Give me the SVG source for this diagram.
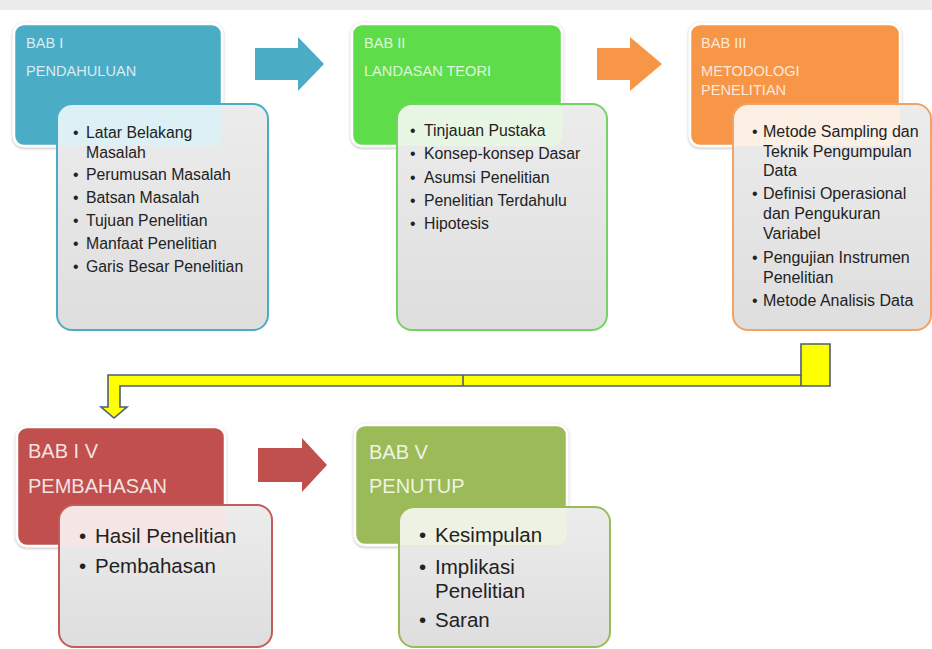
<svg xmlns="http://www.w3.org/2000/svg" width="932" height="649" viewBox="0 0 932 649">
<defs>
  <style>
    .box{stroke:#ffffff;stroke-width:2.5;filter:url(#sh)}
    .inner{fill:url(#gray)}
    .edge{fill:none;stroke-width:2}
    .tt{font-family:"Liberation Sans",Arial,sans-serif;font-size:14.6px;fill:#ffffff;fill-opacity:.8}
    .tb{font-family:"Liberation Sans",Arial,sans-serif;font-size:20px;fill:#ffffff;fill-opacity:.85}
    .b1{font-family:"Liberation Sans",Arial,sans-serif;font-size:15.8px;fill:#222222}
    .b2{font-family:"Liberation Sans",Arial,sans-serif;font-size:20.5px;fill:#222222}
    .conn{fill:#ffff00;stroke:#4a5f78;stroke-width:1.6;stroke-linejoin:miter}
    .seam{stroke:#4a5f78;stroke-width:1.6}
  </style>
  <filter id="sh" x="-10%" y="-10%" width="120%" height="130%">
    <feDropShadow dx="0" dy="1" stdDeviation="1.6" flood-color="#000000" flood-opacity="0.3"/>
  </filter>
  <linearGradient id="gray" x1="0" y1="0" x2="0" y2="1">
    <stop offset="0" stop-color="#ececec"/>
    <stop offset="1" stop-color="#dedede"/>
  </linearGradient>
  <clipPath id="c1"><rect x="57" y="104" width="211" height="226" rx="15"/></clipPath>
  <clipPath id="c2"><rect x="397" y="104" width="210" height="226" rx="15"/></clipPath>
  <clipPath id="c3"><rect x="733" y="104" width="198" height="226" rx="15"/></clipPath>
  <clipPath id="c4"><rect x="59" y="505" width="213" height="142" rx="15"/></clipPath>
  <clipPath id="c5"><rect x="399" y="507" width="211" height="140" rx="15"/></clipPath>
</defs>

<rect x="0" y="0" width="932" height="649" fill="#ffffff"/>
<rect x="0" y="0" width="932" height="10" fill="#ececec"/>

<g id="connectors">
  <path d="M255 48 H298 V37 L324 64 L298 91 V80 H255 Z" fill="#4BACC6"/>
  <path d="M597 48 H630 V37 L662 64 L630 91 V80 H597 Z" fill="#F79646"/>
  <path d="M258 448 H302 V438 L327 465 L302 492 V482 H258 Z" fill="#C0504D"/>
  <path class="conn" d="M801 344 H830 V386 H120 V407 H127 L114 418 L101 407 H108 V375 H801 Z"/>
  <line class="seam" x1="801" y1="375" x2="801" y2="386"/>
  <line class="seam" x1="463" y1="375" x2="463" y2="386"/>
</g>

<g id="bab1">
  <rect class="box" x="14" y="24" width="208" height="122" rx="10" fill="#4BACC6"/>
  <text class="tt" x="26" y="48">BAB I</text>
  <text class="tt" x="26" y="76">PENDAHULUAN</text>
  <rect class="inner" x="57" y="104" width="211" height="226" rx="15"/>
  <rect x="14" y="24" width="208" height="122" rx="10" fill="#dcf0f5" clip-path="url(#c1)"/>
  <rect class="edge" x="57" y="104" width="211" height="226" rx="15" stroke="#4BACC6"/>
  <text class="b1"><tspan x="73" y="138">•</tspan><tspan x="86" y="138">Latar Belakang</tspan><tspan x="86" y="158">Masalah</tspan><tspan x="73" y="180">•</tspan><tspan x="86" y="180">Perumusan Masalah</tspan><tspan x="73" y="203">•</tspan><tspan x="86" y="203">Batsan Masalah</tspan><tspan x="73" y="226">•</tspan><tspan x="86" y="226">Tujuan Penelitian</tspan><tspan x="73" y="249">•</tspan><tspan x="86" y="249">Manfaat Penelitian</tspan><tspan x="73" y="272">•</tspan><tspan x="86" y="272">Garis Besar Penelitian</tspan></text>
</g>

<g id="bab2">
  <rect class="box" x="352" y="24" width="210" height="122" rx="10" fill="#5FDC48"/>
  <text class="tt" x="364" y="48">BAB II</text>
  <text class="tt" x="364" y="76">LANDASAN TEORI</text>
  <rect class="inner" x="397" y="104" width="210" height="226" rx="15"/>
  <rect x="352" y="24" width="210" height="122" rx="10" fill="#e8f7e4" clip-path="url(#c2)"/>
  <rect class="edge" x="397" y="104" width="210" height="226" rx="15" stroke="#74D462"/>
  <text class="b1"><tspan x="410" y="136">•</tspan><tspan x="424" y="136">Tinjauan Pustaka</tspan><tspan x="410" y="159">•</tspan><tspan x="424" y="159">Konsep-konsep Dasar</tspan><tspan x="410" y="183">•</tspan><tspan x="424" y="183">Asumsi Penelitian</tspan><tspan x="410" y="206">•</tspan><tspan x="424" y="206">Penelitian Terdahulu</tspan><tspan x="410" y="229">•</tspan><tspan x="424" y="229">Hipotesis</tspan></text>
</g>

<g id="bab3">
  <rect class="box" x="690" y="24" width="210" height="122" rx="10" fill="#F79646"/>
  <text class="tt" x="701" y="48">BAB III</text>
  <text class="tt" x="701" y="76">METODOLOGI</text>
  <text class="tt" x="701" y="95">PENELITIAN</text>
  <rect class="inner" x="733" y="104" width="198" height="226" rx="15"/>
  <rect x="690" y="24" width="210" height="122" rx="10" fill="#fcefe4" clip-path="url(#c3)"/>
  <rect class="edge" x="733" y="104" width="198" height="226" rx="15" stroke="#F2A263"/>
  <text class="b1" style="font-size:16px"><tspan x="752" y="137">•</tspan><tspan x="763" y="137">Metode Sampling dan</tspan><tspan x="763" y="156.5">Teknik Pengumpulan</tspan><tspan x="763" y="176">Data</tspan><tspan x="752" y="199">•</tspan><tspan x="763" y="199">Definisi Operasional</tspan><tspan x="763" y="219">dan Pengukuran</tspan><tspan x="763" y="239">Variabel</tspan><tspan x="752" y="263">•</tspan><tspan x="763" y="263">Pengujian Instrumen</tspan><tspan x="763" y="283">Penelitian</tspan><tspan x="752" y="306">•</tspan><tspan x="763" y="306">Metode Analisis Data</tspan></text>
</g>

<g id="bab4">
  <rect class="box" x="17" y="427" width="208" height="119" rx="10" fill="#C0504D"/>
  <text class="tb" x="28" y="458">BAB I V</text>
  <text class="tb" x="28" y="493">PEMBAHASAN</text>
  <rect class="inner" x="59" y="505" width="213" height="142" rx="15"/>
  <rect x="17" y="427" width="208" height="119" rx="10" fill="#f5e6e5" clip-path="url(#c4)"/>
  <rect class="edge" x="59" y="505" width="213" height="142" rx="15" stroke="#C55C59"/>
  <text class="b2"><tspan x="79" y="543">•</tspan><tspan x="95" y="543">Hasil Penelitian</tspan><tspan x="79" y="573">•</tspan><tspan x="95" y="573">Pembahasan</tspan></text>
</g>

<g id="bab5">
  <rect class="box" x="355" y="425" width="212" height="120" rx="10" fill="#9BBB59"/>
  <text class="tb" x="369" y="459">BAB V</text>
  <text class="tb" x="369" y="493">PENUTUP</text>
  <rect class="inner" x="399" y="507" width="211" height="140" rx="15"/>
  <rect x="355" y="425" width="212" height="120" rx="10" fill="#eef2e2" clip-path="url(#c5)"/>
  <rect class="edge" x="399" y="507" width="211" height="140" rx="15" stroke="#9BBB59"/>
  <text class="b2"><tspan x="419" y="542">•</tspan><tspan x="435" y="542">Kesimpulan</tspan><tspan x="419" y="574">•</tspan><tspan x="435" y="574">Implikasi</tspan><tspan x="435" y="598">Penelitian</tspan><tspan x="419" y="627">•</tspan><tspan x="435" y="627">Saran</tspan></text>
</g>
</svg>
